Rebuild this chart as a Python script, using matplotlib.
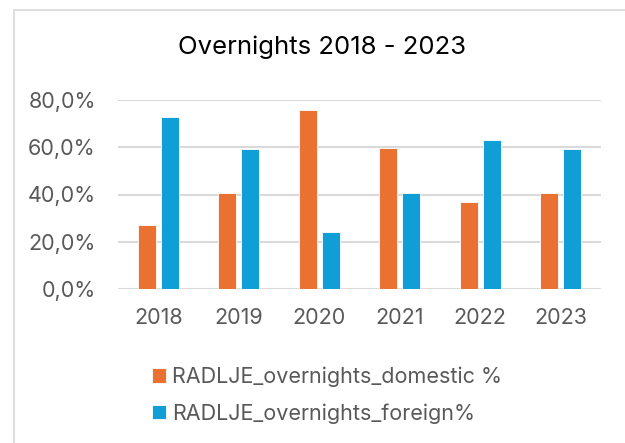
import numpy as np
import matplotlib
matplotlib.use("Agg")
import matplotlib.pyplot as plt
from matplotlib.patches import Rectangle
from matplotlib.ticker import FuncFormatter

years = ["2018", "2019", "2020", "2021", "2022", "2023"]
domestic = [27.0, 40.6, 75.8, 59.5, 37.0, 40.6]
foreign = [73.0, 59.4, 24.2, 40.5, 63.0, 59.4]

orange = "#E97132"
blue = "#0F9ED5"
grey = "#595959"

plt.rcParams['font.family'] = ['Inter', 'DejaVu Sans']

fig = plt.figure(figsize=(6.25, 4.43), dpi=100)
fig.patches.append(Rectangle((13.5 / 625, -0.1), 1.2, 1 - 10 / 443 + 0.1,
                             transform=fig.transFigure, fill=False,
                             edgecolor="#d9d9d9", linewidth=1.2))

ax = fig.add_axes([118 / 625, 1 - 289 / 443, (600.7 - 118) / 625, (289 - 100) / 443])

x = np.arange(len(years))
w = 0.224
off = 0.143
ax.bar(x - off, domestic, w, color=orange, edgecolor="white", linewidth=0.6,
       label="RADLJE_overnights_domestic %", zorder=3)
ax.bar(x + off, foreign, w, color=blue, edgecolor="white", linewidth=0.6,
       label="RADLJE_overnights_foreign%", zorder=3)

ax.set_xlim(-0.5, len(years) - 0.5)
ax.set_ylim(0, 80)
ax.set_yticks([0, 20, 40, 60, 80])
ax.yaxis.set_major_formatter(FuncFormatter(lambda v, p: ("%.1f%%" % v).replace(".", ",")))
ax.set_xticks(x)
ax.set_xticklabels(years)
ax.grid(axis="y", color="#d9d9d9", linewidth=1.5, zorder=0)
ax.set_axisbelow(True)
for s in ax.spines.values():
    s.set_visible(False)
ax.tick_params(length=0, labelsize=15.5, labelcolor=grey)
ax.tick_params(axis="y", pad=16)
ax.tick_params(axis="x", pad=14)

fig.text(322 / 625, 1 - 47 / 443, "Overnights 2018 - 2023", ha="center", va="center",
         fontsize=18.5, color="black")

leg = fig.legend(loc="upper left", bbox_to_anchor=(143 / 625, 1 - 358 / 443),
                 frameon=False, fontsize=15.5, handlelength=0.65, handleheight=0.65,
                 handletextpad=0.3, labelspacing=0.75, borderaxespad=0)
for t in leg.get_texts():
    t.set_color(grey)

fig.savefig("out.png", dpi=100)
